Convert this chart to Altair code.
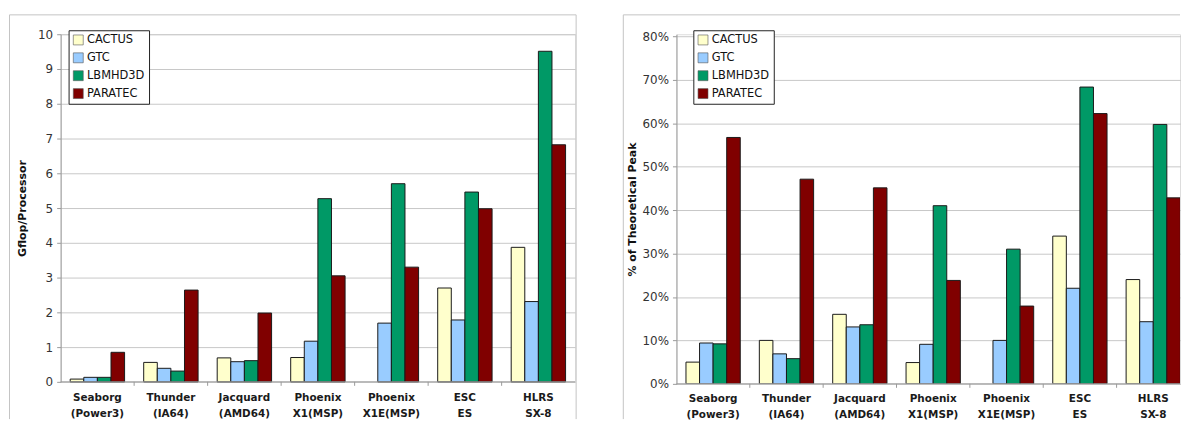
import altair as alt
import pandas as pd

categories = ["Seaborg|(Power3)", "Thunder|(IA64)", "Jacquard|(AMD64)",
              "Phoenix|X1(MSP)", "Phoenix|X1E(MSP)", "ESC|ES", "HLRS|SX-8"]
series = ["CACTUS", "GTC", "LBMHD3D", "PARATEC"]
colors = ["#FFFFCC", "#99CCFF", "#009966", "#800000"]

# Gflop/Processor
gflop_cactus = [0.08, 0.56, 0.69, 0.70, None, 2.70, 3.87]
gflop_gtc = [0.13, 0.39, 0.58, 1.17, 1.69, 1.78, 2.31]
gflop_lbmhd3d = [0.13, 0.31, 0.61, 5.27, 5.70, 5.46, 9.51]
gflop_paratec = [0.85, 2.64, 1.98, 3.05, 3.30, 4.98, 6.82]

# % of theoretical peak
peak_cactus = [5.0, 10.0, 16.0, 4.9, None, 34.0, 24.0]
peak_gtc = [9.4, 6.9, 13.1, 9.1, 10.0, 22.0, 14.3]
peak_lbmhd3d = [9.2, 5.8, 13.6, 41.0, 31.0, 68.3, 59.7]
peak_paratec = [56.7, 47.1, 45.1, 23.8, 17.9, 62.2, 42.8]

FONT = "DejaVu Sans"


def build(vals, width, height, range_w, ymax, yvals, label_expr, ytitle,
          title_x, leg_x, leg_y, frame_left, frame_right, frame_top, frame_bottom,
          lab_y1, lab_y2, clip):
    rows = []
    for s, arr in zip(series, vals):
        for c, v in zip(categories, arr):
            if v is not None:
                rows.append({"cat": c, "series": s, "value": v})
    df = pd.DataFrame(rows)

    xscale = alt.Scale(domain=categories, paddingInner=0.26, paddingOuter=0.13,
                       range=[0, range_w])
    step = range_w / 7.0
    half_gap = step * 0.13

    bars = alt.Chart(df).mark_bar(stroke="#1a1a1a", strokeWidth=1, clip=clip).encode(
        x=alt.X("cat:N", scale=xscale, title=None, axis=None),
        xOffset=alt.XOffset("series:N", scale=alt.Scale(domain=series, paddingInner=0,
                                                        paddingOuter=0)),
        y=alt.Y("value:Q", scale=alt.Scale(domain=[0, ymax], nice=False, zero=True),
                title=ytitle,
                axis=alt.Axis(values=yvals, labelExpr=label_expr, grid=True,
                              gridColor="#c8c8c8", domainColor="#9a9a9a", tickColor="#9a9a9a",
                              tickSize=4, labelFont=FONT, labelFontSize=12,
                              labelColor="#333333", labelPadding=4,
                              titleFont=FONT, titleFontSize=11, titleFontWeight="bold",
                              titleColor="#111111", titleAngle=270, titleX=title_x,
                              titleY=height / 2.0, titleAlign="center",
                              titleBaseline="middle")),
        color=alt.Color("series:N", scale=alt.Scale(domain=series, range=colors),
                        legend=alt.Legend(orient="none", legendX=leg_x, legendY=leg_y,
                                          title=None, strokeColor="#222222",
                                          fillColor="white", padding=4,
                                          symbolType="square", symbolSize=100,
                                          symbolStrokeColor="#555555",
                                          symbolStrokeWidth=0.6,
                                          labelFont=FONT, labelFontSize=11.5,
                                          labelColor="#111111", rowPadding=5,
                                          labelOffset=3, cornerRadius=0)),
    )

    cat_df = pd.DataFrame({
        "cat": categories,
        "line1": [c.split("|")[0] for c in categories],
        "line2": [c.split("|")[1] for c in categories],
    })
    ticks = alt.Chart(cat_df.iloc[1:]).mark_rule(color="#9a9a9a", xOffset=-half_gap).encode(
        x=alt.X("cat:N", scale=xscale, bandPosition=0, axis=None),
        y=alt.value(height), y2=alt.value(height + 4),
    )
    lab1 = alt.Chart(cat_df).mark_text(font=FONT, fontSize=10.5, fontWeight="bold",
                                       color="#1a1a1a", baseline="middle").encode(
        x=alt.X("cat:N", scale=xscale, axis=None),
        y=alt.value(lab_y1), text="line1:N")
    lab2 = alt.Chart(cat_df).mark_text(font=FONT, fontSize=10.5, fontWeight="bold",
                                       color="#1a1a1a", baseline="middle").encode(
        x=alt.X("cat:N", scale=xscale, axis=None),
        y=alt.value(lab_y2), text="line2:N")

    one = pd.DataFrame({"k": [0]})
    base_line = alt.Chart(one).mark_rule(color="#9a9a9a").encode(
        x=alt.value(0), x2=alt.value(width), y=alt.value(height))

    layers = [bars, ticks, base_line, lab1, lab2]
    fcol = "#c4c4c4"
    layers.append(alt.Chart(one).mark_rule(color=fcol).encode(
        x=alt.value(frame_left), y=alt.value(frame_top), y2=alt.value(frame_bottom)))
    top_right = frame_right if frame_right is not None else width
    layers.append(alt.Chart(one).mark_rule(color=fcol).encode(
        x=alt.value(frame_left), x2=alt.value(top_right), y=alt.value(frame_top)))
    if frame_right is not None:
        layers.append(alt.Chart(one).mark_rule(color=fcol).encode(
            x=alt.value(frame_right), y=alt.value(frame_top), y2=alt.value(frame_bottom)))

    return alt.layer(*layers).properties(width=width, height=height)


left = build([gflop_cactus, gflop_gtc, gflop_lbmhd3d, gflop_paratec],
             width=518, height=350, range_w=518, ymax=10,
             yvals=list(range(0, 11)), label_expr="datum.value",
             ytitle="Gflop/Processor", title_x=-38, leg_x=8, leg_y=-4,
             frame_left=-51.5, frame_right=519, frame_top=-19.5, frame_bottom=387.5,
             lab_y1=366, lab_y2=382, clip=False)

right = build([peak_cactus, peak_gtc, peak_lbmhd3d, peak_paratec],
              width=507, height=352, range_w=517, ymax=80 * 352 / 350.0,
              yvals=list(range(0, 81, 10)), label_expr="datum.value + '%'",
              ytitle="% of Theoretical Peak", title_x=-44, leg_x=17, leg_y=-4,
              frame_left=-53.5, frame_right=None, frame_top=-19.5, frame_bottom=387.5,
              lab_y1=367, lab_y2=383, clip=True)

chart = alt.hconcat(left, right, spacing=102, bounds="flush").resolve_scale(
    color="independent", xOffset="independent"
).properties(
    padding={"left": 0, "top": 4, "right": 0, "bottom": 0},
    autosize=alt.AutoSizeParams(type="pad"),
    background="white",
).configure_view(stroke=None).configure(font=FONT)

chart.save("out.html", embed_options={"renderer": "svg", "actions": False})
